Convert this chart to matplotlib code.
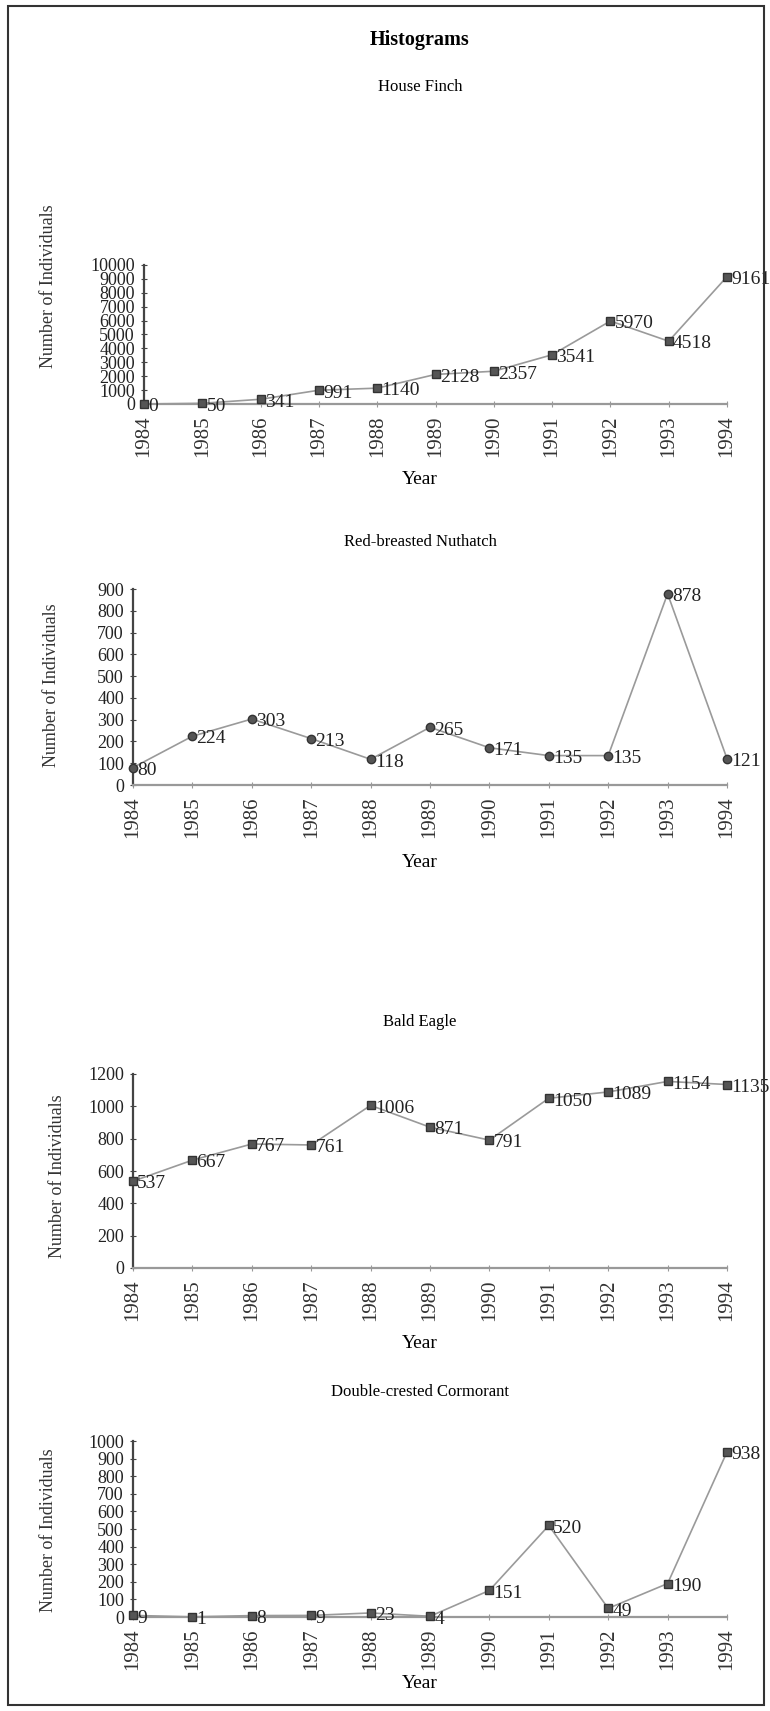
import matplotlib
matplotlib.use("Agg")
import matplotlib.pyplot as plt
from matplotlib.patches import Rectangle

plt.rcParams['font.family'] = ['Liberation Serif', 'DejaVu Serif']

years = [1984, 1985, 1986, 1987, 1988, 1989, 1990, 1991, 1992, 1993, 1994]
year_labels = [str(y) for y in years]

finch = [0, 50, 341, 991, 1140, 2128, 2357, 3541, 5970, 4518, 9161]
nuthatch = [80, 224, 303, 213, 118, 265, 171, 135, 135, 878, 121]
eagle = [537, 667, 767, 761, 1006, 871, 791, 1050, 1089, 1154, 1135]
cormorant = [9, 1, 8, 9, 23, 4, 151, 520, 49, 190, 938]

titles = ["House Finch", "Red-breasted Nuthatch", "Bald Eagle", "Double-crested Cormorant"]
series = [finch, nuthatch, eagle, cormorant]
yticks = [list(range(0, 10001, 1000)), list(range(0, 901, 100)),
          list(range(0, 1201, 200)), list(range(0, 1001, 100))]
markers = ['s', 'o', 's', 's']

W, H = 770, 1711
fig = plt.figure(figsize=(W / 100, H / 100), dpi=100)

# panel layout in pixels: left, right, top(ymax), bottom(y0), title y, year y, ylabel x, ylabel center y
layout = [
    (144, 727, 265, 404, 87, 480, 49, 286),
    (133, 727, 589, 785, 542, 862, 52, 685),
    (133, 727, 1074, 1268, 1022, 1344, 58, 1176),
    (133, 727, 1441, 1617, 1392, 1684, 49, 1530),
]

fig.text(420 / W, 1 - 40 / H, "Histograms", ha='center', va='center',
         fontsize=14.5, fontweight='bold')

border = Rectangle((8 / W, 6 / H), (W - 14) / W, (H - 12) / H, transform=fig.transFigure,
                   fill=False, edgecolor='#333333', linewidth=1.5)
fig.patches.append(border)

for (l, r, t, b, ty, yy, lx, ly), title, vals, yt, mk in zip(layout, titles, series, yticks, markers):
    ax = fig.add_axes([l / W, 1 - b / H, (r - l) / W, (b - t) / H])
    ax.plot(years, vals, color='#9a9a9a', linewidth=1.2, zorder=2)
    ax.plot(years, vals, linestyle='none', marker=mk, markersize=6,
            markerfacecolor='#555555', markeredgecolor='#333333', zorder=3, clip_on=False)
    for x, v in zip(years, vals):
        ax.annotate(str(v), (x, v), xytext=(3, -2), textcoords='offset points',
                    ha='left', va='center', fontsize=14, color='#222222',
                    annotation_clip=False)
    ax.set_xlim(years[0], years[-1])
    ax.set_ylim(yt[0], yt[-1])
    ax.set_yticks(yt)
    ax.set_yticklabels([str(v) for v in yt], fontsize=13)
    ax.set_xticks(years)
    ax.set_xticklabels(year_labels, rotation=90, fontsize=15)
    for s in ['top', 'right']:
        ax.spines[s].set_visible(False)
    ax.spines['left'].set_color('#444444')
    ax.spines['left'].set_linewidth(1.6)
    ax.spines['bottom'].set_color('#999999')
    ax.spines['bottom'].set_linewidth(1.6)
    ax.tick_params(axis='y', direction='inout', length=5, color='#444444', pad=4,
                   labelcolor='#222222')
    ax.tick_params(axis='x', direction='inout', length=4, color='#999999', pad=6,
                   labelcolor='#333333')
    fig.text(420 / W, 1 - ty / H, title, ha='center', va='center', fontsize=12)
    fig.text(420 / W, 1 - yy / H, "Year", ha='center', va='center', fontsize=14)
    fig.text(lx / W, 1 - ly / H, "Number of Individuals", ha='center', va='center',
             rotation=90, fontsize=13, color='#333333')

fig.savefig("out.png", dpi=100)
